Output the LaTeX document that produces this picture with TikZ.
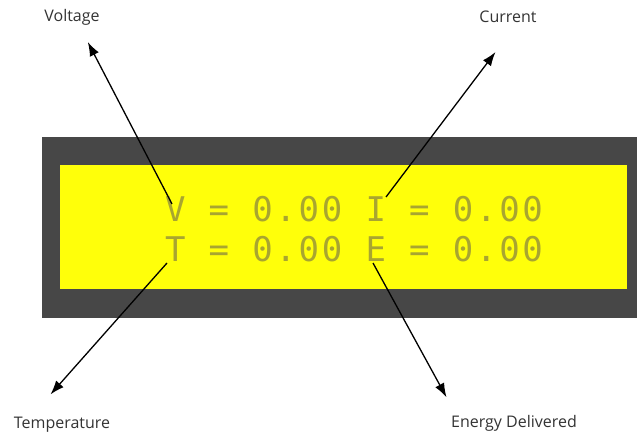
\documentclass[tikz,border=0pt]{standalone}
\usepackage{fontspec}
\setmainfont{Open Sans}
\newfontfamily\lcdfont[LetterSpace=8]{DejaVu Sans Mono}
\usetikzlibrary{arrows.meta}
\definecolor{bezel}{HTML}{474747}
\definecolor{lcdyellow}{HTML}{FFFF0A}
\definecolor{lcdtext}{HTML}{A8A530}
\tikzset{
  lcd/.style={lcdtext,font=\lcdfont\fontsize{17}{17}\selectfont,anchor=base,inner sep=0pt},
  label/.style={font=\fontsize{8}{9}\selectfont,color=black!80,inner sep=1pt,outer sep=0pt},
  pointer/.style={line width=0.65pt,-{Latex[length=7pt,width=5pt]}}
}
\begin{document}
\begin{tikzpicture}[x=0.5pt,y=-0.5pt]
  \useasboundingbox (0,0) rectangle (637,438);
  \fill[bezel] (42,137) rectangle (637,318);
  \fill[lcdyellow] (60,165) rectangle (627,289);
  \node[lcd] (row1) at (354,222){V = 0.00 I = 0.00};
  \node[lcd] (row2) at (354,262){T = 0.00 E = 0.00};
  \coordinate (vtop) at (172,204); \coordinate (itop) at (386,197);
  \coordinate (tbot) at (167,263); \coordinate (ebot) at (373,263);
  \node[label] (voltage) at (72,17){Voltage};
  \node[label] (current) at (508,17){Current};
  \node[label] (temperature) at (62,425){Temperature};
  \node[label] (energy) at (514,423){Energy Delivered};
  \draw[pointer,shorten >=8.5pt] (vtop)--([xshift=4pt]voltage.south);
  \draw[pointer,shorten >=17pt] (itop)--([xshift=4pt]current.south);
  \draw[pointer,shorten >=14pt] (tbot)--([xshift=10pt]temperature.north west);
  \draw[pointer,shorten >=9pt] (ebot)--([xshift=3pt]energy.north west);
\end{tikzpicture}
\end{document}
